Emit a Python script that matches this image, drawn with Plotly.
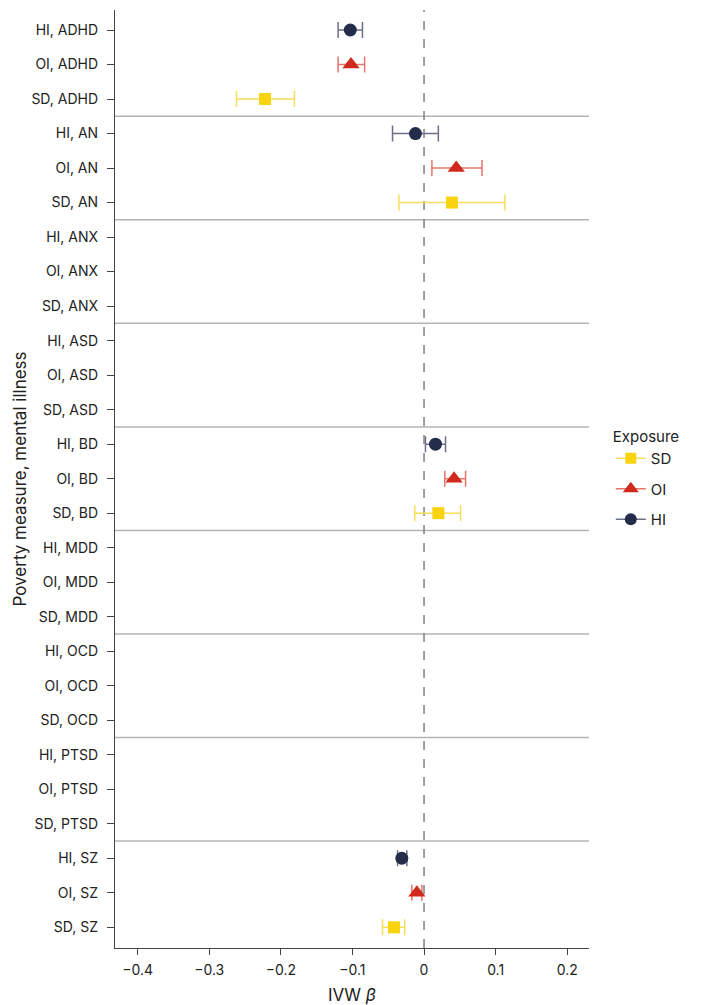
import plotly.graph_objects as go

measures = ["HI", "OI", "SD"]
illnesses = ["ADHD", "AN", "ANX", "ASD", "BD", "MDD", "OCD", "PTSD", "SZ"]

hi_beta = [-0.103, -0.012, None, None, 0.016, None, None, None, -0.031]
hi_lo = [-0.120, -0.044, None, None, 0.002, None, None, None, -0.037]
hi_hi = [-0.086, 0.020, None, None, 0.030, None, None, None, -0.024]

oi_beta = [-0.102, 0.045, None, None, 0.042, None, None, None, -0.010]
oi_lo = [-0.120, 0.011, None, None, 0.029, None, None, None, -0.017]
oi_hi = [-0.083, 0.081, None, None, 0.058, None, None, None, -0.003]

sd_beta = [-0.222, 0.039, None, None, 0.020, None, None, None, -0.042]
sd_lo = [-0.262, -0.035, None, None, -0.013, None, None, None, -0.058]
sd_hi = [-0.181, 0.113, None, None, 0.051, None, None, None, -0.027]

x_ticks = [-0.4, -0.3, -0.2, -0.1, 0, 0.1, 0.2]
x_tick_text = ["\u22120.4", "\u22120.3", "\u22120.2", "\u22120.1", "0", "0.1", "0.2"]

categories = [f"{m}, {ill}" for ill in illnesses for m in measures]

FONT = "Inter"
styles = {
    "HI": dict(symbol="circle", size=13, color="#232c49", err="#6b7087"),
    "OI": dict(symbol="triangle-up", size=15, color="#cf2a1b", err="#e4756a"),
    "SD": dict(symbol="square", size=12, color="#f9d30f", err="#f8de5a"),
}
series = {
    "HI": (hi_beta, hi_lo, hi_hi),
    "OI": (oi_beta, oi_lo, oi_hi),
    "SD": (sd_beta, sd_lo, sd_hi),
}

fig = go.Figure()
for m in measures:
    b, lo, hi = series[m]
    xs, ys, plus, minus = [], [], [], []
    for ill, bv, lv, hv in zip(illnesses, b, lo, hi):
        if bv is None:
            continue
        xs.append(bv)
        ys.append(f"{m}, {ill}")
        plus.append(hv - bv)
        minus.append(bv - lv)
    st = styles[m]
    fig.add_trace(go.Scatter(
        x=xs, y=ys, mode="markers", showlegend=False,
        marker=dict(symbol=st["symbol"], size=st["size"], color=st["color"], line=dict(width=0)),
        error_x=dict(type="data", symmetric=False, array=plus, arrayminus=minus,
                     color=st["err"], thickness=1.5, width=8),
    ))

# legend-only traces (order SD, OI, HI)
for m in ["SD", "OI", "HI"]:
    st = styles[m]
    fig.add_trace(go.Scatter(
        x=[None], y=[None], mode="lines+markers", name=m, legendgroup=m,
        marker=dict(symbol=st["symbol"], size=st["size"] - 1, color=st["color"]),
        line=dict(color=st["err"], width=1.5),
    ))

# group separators
for i in range(1, len(illnesses)):
    ypos = i * len(measures) - 0.5
    fig.add_shape(type="line", xref="paper", x0=0, x1=1, yref="y", y0=ypos, y1=ypos,
                  line=dict(color="#b5b5b5", width=1.5), layer="below")

# zero line
fig.add_shape(type="line", xref="x", x0=0, x1=0, yref="paper", y0=0, y1=1,
              line=dict(color="#808080", width=1.5, dash="dash"), layer="below")

fig.update_layout(
    width=697, height=997,
    margin=dict(l=107, r=116, t=2, b=57),
    plot_bgcolor="white", paper_bgcolor="white",
    font=dict(family=FONT, size=14, color="#222"),
    legend=dict(
        title=dict(text="Exposure", font=dict(size=15)),
        x=1.046, xanchor="left", y=0.5, yanchor="middle",
        font=dict(size=15), itemwidth=30, tracegroupgap=8,
    ),
    xaxis=dict(
        range=[-0.4316, 0.2304], tickvals=x_ticks, ticktext=x_tick_text,
        showgrid=False, zeroline=False, showline=True, linecolor="#444", linewidth=1.2,
        ticks="outside", ticklen=6, tickcolor="#444", ticklabelstandoff=3,
        title=dict(text="IVW <i>\u03b2</i>", font=dict(size=17), standoff=14),
    ),
    yaxis=dict(
        type="category", categoryorder="array", categoryarray=categories,
        range=[len(categories) - 1 + 0.6, -0.58],
        showgrid=False, zeroline=False, showline=True, linecolor="#444", linewidth=1.2,
        ticks="outside", ticklen=7, tickcolor="#444", ticklabelstandoff=6,
        title=dict(text="Poverty measure, mental illness", font=dict(size=17), standoff=0),
    ),
)

fig.write_html("out.html")
